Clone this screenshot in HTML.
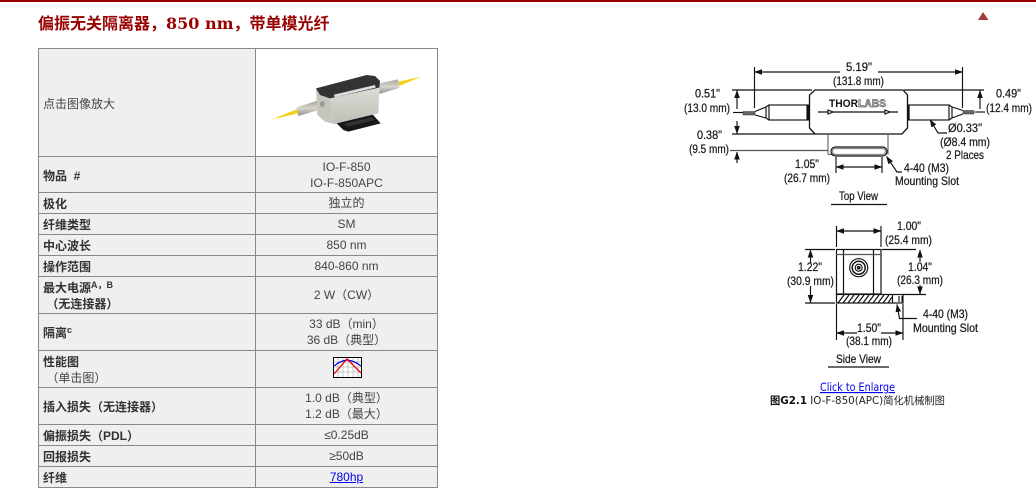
<!DOCTYPE html>
<html><head><meta charset="utf-8">
<style>
html,body{margin:0;padding:0;background:#fff;width:1036px;height:490px;overflow:hidden}
#bar{position:absolute;left:0;top:0;width:1036px;height:2px;background:#990000}
#title{position:absolute;left:38px;top:11px;font:bold 16px/22px "DejaVu Serif","Noto Sans CJK SC",serif;color:#990000;white-space:nowrap}
#title span{font-family:"Noto Sans CJK SC",sans-serif}
table{position:absolute;left:38px;top:48px;width:400px;border-collapse:collapse;table-layout:fixed;font:12px/16px "Liberation Sans","Noto Sans CJK SC",sans-serif;color:#444}
td{border:1px solid #888;background:#efefef;padding:0 0 0 4px;box-sizing:border-box;overflow:hidden}
td.l{font-weight:bold;color:#333;padding-top:2px}
td.r{text-align:center;padding:0}
td.w{background:#fff}
td.n{font-weight:normal;color:#444;padding-top:2px}
sup{font-size:9px;line-height:0;vertical-align:4px}
a{color:#0000ee;text-decoration:underline}
svg{position:absolute;left:0;top:0}
svg text{font-family:"Liberation Sans",sans-serif;font-size:12px;fill:#1a1a1a;stroke:#1a1a1a;stroke-width:.25}
</style></head><body>
<div id="bar"></div>
<div id="title"><span>偏振无关隔离器，</span>850 nm<span>，带单模光纤</span></div>
<table>
<colgroup><col style="width:217px"><col style="width:182px"></colgroup>
<tr style="height:108px"><td class="n">点击图像放大</td><td class="r w"></td></tr>
<tr style="height:36px"><td class="l">物品 &nbsp;#</td><td class="r">IO-F-850<br>IO-F-850APC</td></tr>
<tr style="height:21px"><td class="l">极化</td><td class="r">独立的</td></tr>
<tr style="height:21px"><td class="l">纤维类型</td><td class="r">SM</td></tr>
<tr style="height:21px"><td class="l">中心波长</td><td class="r">850 nm</td></tr>
<tr style="height:21px"><td class="l">操作范围</td><td class="r">840-860 nm</td></tr>
<tr style="height:37px"><td class="l">最大电源<sup>A，B</sup><br>&nbsp;（无连接器）</td><td class="r">2 W（CW）</td></tr>
<tr style="height:37px"><td class="l">隔离<sup>c</sup></td><td class="r">33 dB（min）<br>36 dB（典型）</td></tr>
<tr style="height:37px"><td class="n"><b style="color:#333">性能图</b><br>&nbsp;（单击图）</td><td class="r"></td></tr>
<tr style="height:37px"><td class="l">插入损失（无连接器）</td><td class="r">1.0 dB（典型）<br>1.2 dB（最大）</td></tr>
<tr style="height:21px"><td class="l">偏振损失（PDL）</td><td class="r">≤0.25dB</td></tr>
<tr style="height:21px"><td class="l">回报损失</td><td class="r">≥50dB</td></tr>
<tr style="height:21px"><td class="l">纤维</td><td class="r"><a href="#">780hp</a></td></tr>
</table>

<svg width="1036" height="490" viewBox="0 0 1036 490" xmlns="http://www.w3.org/2000/svg">
<defs>
<marker id="a" markerWidth="8" markerHeight="6" refX="7.500" refY="3" orient="auto-start-reverse" markerUnits="userSpaceOnUse"><path d="M0 0.2L8 3L0 5.800z" fill="#111"/></marker>
<linearGradient id="fr" x1="0" y1="0" x2="0" y2="1"><stop offset="0" stop-color="#dedcd6"/><stop offset="1" stop-color="#bebdb6"/></linearGradient>
<linearGradient id="tb" x1="0" y1="0" x2="0" y2="1"><stop offset="0" stop-color="#a8a69e"/><stop offset=".5" stop-color="#d6d4cc"/><stop offset="1" stop-color="#8f8d85"/></linearGradient>
</defs>

<!-- triangle -->
<path d="M983 12L988.500 20H978z" fill="#a33a3a"/>

<!-- product photo -->
<g transform="scale(.33333)">
<path d="M815 358L892 327L895 340z" fill="#f5d21f"/>
<path d="M1195 245L1265 230L1198 258z" fill="#f5d21f"/>
<path d="M890 322L952 302L955 330L895 348Z" fill="url(#tb)"/>
<path d="M1138 250L1194 238L1198 264L1138 282Z" fill="url(#tb)"/>
<path d="M1005 365L1115 340L1142 370L1045 395L1030 390Z" fill="#17171a"/>
<path d="M1030 372L1115 352L1125 360L1045 380Z" fill="#333"/>
<path d="M948 265L990 295L1002 372L975 365L952 345Z" fill="#c6c5be"/>
<path d="M990 295L1138 263L1135 340L1002 372Z" fill="url(#fr)"/>
<path d="M948 265L1100 225L1125 228L1140 243L1138 263L990 295L960 285Z" fill="#333336"/>
<path d="M1002 284L1125 255L1127 263L1004 292Z" fill="#dcdcdc"/>
<ellipse cx="967" cy="312" rx="7" ry="9" fill="#9a9890"/>
</g>

<!-- chart icon -->
<g>
<rect x="333.500" y="357.500" width="28" height="20" fill="#fff" stroke="#000"/>
<path d="M338 358v19M343 358v19M348 358v19M353 358v19M358 358v19M334 362h27M334 367h27M334 372h27" stroke="#bbb" stroke-width=".8" fill="none"/>
<path d="M334 366Q340 361 347 360Q355 361 361 366" stroke="#0000ee" stroke-width="1.300" fill="none"/>
<path d="M334 374L347 359L361 373" stroke="#ee0000" stroke-width="1.300" fill="none"/>
</g>

<!-- TOP VIEW -->
<g fill="none" stroke="#111" stroke-width="1.150">
<path d="M815 90H903L907.500 95V128L902 134H815L809.500 128V95Z" stroke-width="1.300"/>
<path d="M828 134V154.500M888 134V154.500" stroke="#666"/>
<path d="M828 154.500H836" stroke="#666"/>
<rect x="831" y="147" width="56" height="9" rx="4.500" stroke-width="1.200"/>
<rect x="832.500" y="148.500" width="53" height="6" rx="3" stroke="#888"/>
<path d="M808 104.500V120.500" stroke-width="2.200"/>
<path d="M908.500 104.500V120.500" stroke-width="2.200"/>
<rect x="769" y="105" width="38" height="15"/>
<rect x="909" y="105" width="40" height="15"/>
<path d="M769 105L766 107L755 111.500M769 120L766 118L755 115"/>
<path d="M766 107V118M949 105L952 107L963 110.500M949 120L952 118L963 114M952 107V118"/>
<path d="M818 112H898"/>
<path d="M828 110L833 112L828 114Z" fill="#fff"/>
<path d="M885 110L890 112L885 114Z" fill="#fff"/>
<!-- fibers -->
<rect x="743" y="111.500" width="12" height="3.500" fill="#666" stroke="#333" stroke-width=".5"/>
<rect x="963" y="110.500" width="11" height="3.500" fill="#666" stroke="#333" stroke-width=".5"/>
<!-- dims -->
<path d="M754.500 67V108M962.500 67V108"/>
<path d="M754.500 72H840" marker-start="url(#a)"/>
<path d="M878 72H962.500" marker-end="url(#a)"/>
<path d="M732 90H812M904 90H984"/>
<path d="M737 109V90.500" marker-end="url(#a)"/>
<path d="M733 112.500H743"/>
<path d="M737 121V133.500" marker-end="url(#a)"/>
<path d="M732 134H815"/>
<path d="M730 150.500H828" stroke="#555"/>
<path d="M737 163V152" marker-end="url(#a)"/>
<path d="M980 109V90.500" marker-end="url(#a)"/>
<path d="M975 112H985"/>
<path d="M947 133H938L930 119.500" marker-end="url(#a)"/>
<path d="M836 157V173M882 157V173"/>
<path d="M836 167H882" marker-start="url(#a)" marker-end="url(#a)"/>
<path d="M902 172H897L886.500 156.500" marker-end="url(#a)"/>
<path d="M831 204.500H887"/>
</g>
<text x="829" y="107" textLength="57" lengthAdjust="spacingAndGlyphs" style="font-weight:bold;font-size:11px;fill:#111;stroke:none">THOR<tspan style="fill:#bbb;stroke:#222;stroke-width:.4">LABS</tspan></text>
<text x="846" y="71" textLength="26" lengthAdjust="spacingAndGlyphs">5.19"</text>
<text x="833" y="85" textLength="51" lengthAdjust="spacingAndGlyphs">(131.8 mm)</text>
<text x="695" y="97.500" textLength="25" lengthAdjust="spacingAndGlyphs">0.51"</text>
<text x="684" y="112" textLength="46" lengthAdjust="spacingAndGlyphs">(13.0 mm)</text>
<text x="697" y="139" textLength="25" lengthAdjust="spacingAndGlyphs">0.38"</text>
<text x="689" y="153" textLength="40" lengthAdjust="spacingAndGlyphs">(9.5 mm)</text>
<text x="996" y="97.500" textLength="25" lengthAdjust="spacingAndGlyphs">0.49"</text>
<text x="986" y="112" textLength="46" lengthAdjust="spacingAndGlyphs">(12.4 mm)</text>
<text x="948" y="132" textLength="34" lengthAdjust="spacingAndGlyphs">Ø0.33"</text>
<text x="940" y="146" textLength="50" lengthAdjust="spacingAndGlyphs">(Ø8.4 mm)</text>
<text x="946" y="159" textLength="38" lengthAdjust="spacingAndGlyphs">2 Places</text>
<text x="795" y="168" textLength="24" lengthAdjust="spacingAndGlyphs">1.05"</text>
<text x="784" y="182" textLength="46" lengthAdjust="spacingAndGlyphs">(26.7 mm)</text>
<text x="904" y="172" textLength="45" lengthAdjust="spacingAndGlyphs">4-40 (M3)</text>
<text x="895" y="185" textLength="64" lengthAdjust="spacingAndGlyphs">Mounting Slot</text>
<text x="839" y="200" textLength="39" lengthAdjust="spacingAndGlyphs">Top View</text>

<!-- SIDE VIEW -->
<g fill="none" stroke="#111" stroke-width="1.150">
<rect x="836.500" y="249.500" width="44.500" height="44.500" stroke-width="1.200"/>
<path d="M843.500 249.500V294M873.500 249.500V294" stroke-width="1.200"/>
<path d="M836 254.500H881" stroke="#555"/>
<circle cx="858.700" cy="267.700" r="9"/>
<circle cx="858.700" cy="267.700" r="6.500" stroke-width="1.500"/>
<circle cx="858.700" cy="267.700" r="3.500"/>
<circle cx="858.700" cy="267.700" r="1.300" fill="#333"/>
<rect x="836.500" y="294.500" width="66.500" height="8.500" stroke-width="1.200"/>
<path d="M892.500 294.500V303M899 296V302M902 296V302" />
<path d="M838 303L844 295M843 303L849 295M848 303L854 295M853 303L859 295M858 303L864 295M863 303L869 295M868 303L874 295M873 303L879 295M878 303L884 295M883 303L889 295M888 303L892 297" stroke-width="1.200"/>
<path d="M805 249.500H835M805 303H835M882 249.500H916M903 294.500H926"/>
<path d="M836.500 226V247M881 226V247"/>
<path d="M836.500 231H881" marker-start="url(#a)" marker-end="url(#a)"/>
<path d="M810.500 263V250" marker-end="url(#a)"/>
<path d="M810.500 286V302.500" marker-end="url(#a)"/>
<path d="M920 262V250" marker-end="url(#a)"/>
<path d="M920 285V294" marker-end="url(#a)"/>
<path d="M836.500 304V340M903 304V340"/>
<path d="M836.500 333H857" marker-start="url(#a)"/>
<path d="M881 333H903" marker-end="url(#a)"/>
<path d="M917 318.500H899.500L897 304.500" marker-end="url(#a)"/>
<path d="M828 367H889"/>
</g>
<text x="897" y="230" textLength="24" lengthAdjust="spacingAndGlyphs">1.00"</text>
<text x="885" y="244" textLength="47" lengthAdjust="spacingAndGlyphs">(25.4 mm)</text>
<text x="798" y="271" textLength="24" lengthAdjust="spacingAndGlyphs">1.22"</text>
<text x="787" y="285" textLength="47" lengthAdjust="spacingAndGlyphs">(30.9 mm)</text>
<text x="908" y="271" textLength="24" lengthAdjust="spacingAndGlyphs">1.04"</text>
<text x="897" y="284" textLength="46" lengthAdjust="spacingAndGlyphs">(26.3 mm)</text>
<text x="857" y="332" textLength="24" lengthAdjust="spacingAndGlyphs">1.50"</text>
<text x="846" y="345" textLength="46" lengthAdjust="spacingAndGlyphs">(38.1 mm)</text>
<text x="923" y="318" textLength="45" lengthAdjust="spacingAndGlyphs">4-40 (M3)</text>
<text x="913" y="332" textLength="65" lengthAdjust="spacingAndGlyphs">Mounting Slot</text>
<text x="836" y="363" textLength="45" lengthAdjust="spacingAndGlyphs">Side View</text>

<!-- caption -->
<text x="820" y="391" textLength="75" lengthAdjust="spacingAndGlyphs" style="font-family:'DejaVu Sans',sans-serif;font-size:11.500px;fill:#0000ee;stroke:none;text-decoration:underline">Click to Enlarge</text>
<text x="770" y="404" textLength="175" lengthAdjust="spacingAndGlyphs" style="font-family:'DejaVu Sans','Noto Sans CJK SC',sans-serif;font-size:10.500px;fill:#222;stroke:none"><tspan style="font-weight:bold;fill:#111">图G2.1</tspan> IO-F-850(APC)简化机械制图</text>
</svg>
</body></html>
